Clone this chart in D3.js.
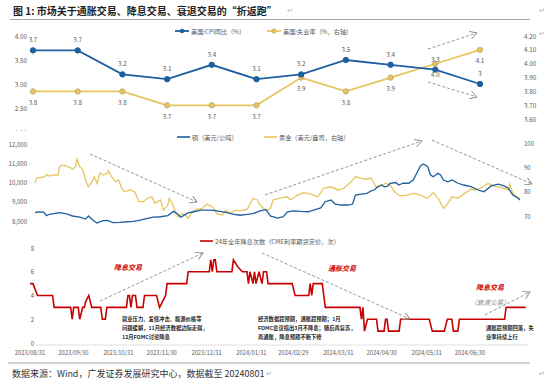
<!DOCTYPE html>
<html><head><meta charset="utf-8">
<script src="https://cdn.jsdelivr.net/npm/d3@7"></script>
<style>body{margin:0;background:#fff}svg{display:block}text{font-family:"Noto Sans CJK SC","Noto Sans",sans-serif}</style>
</head><body><svg id="c" width="550" height="379"></svg>
<script>
// ---------- DATA ----------
const months = ["2023-08","2023-09","2023-10","2023-11","2023-12","2024-01","2024-02","2024-03","2024-04","2024-05","2024-06"];
const cpi = [3.7,3.7,3.2,3.1,3.4,3.1,3.2,3.5,3.4,3.3,3.0];
const cpiLabels = ["3.7","3.7","3.2","3.1","3.4","3.1","3.2","3.5","3.4","3.3","3"];
const unemp = [3.8,3.8,3.8,3.7,3.7,3.7,3.9,3.8,3.9,4.0,4.1];
const unempLabels = ["3.8","3.8","3.8","3.7","3.7","3.7","3.9","3.8","3.9","4.0","4.1"];
const p1LeftTicks = [4.0,3.5,3.0,2.5,2.0];
const p1RightTicks = [4.2,4.1,4.0,3.9,3.8,3.7,3.6,3.5];

const copperDates = ["2023-08-31","2023-09-02","2023-09-06","2023-09-08","2023-09-10","2023-09-14","2023-09-17","2023-09-22","2023-09-26","2023-10-01","2023-10-05","2023-10-07","2023-10-10","2023-10-13","2023-10-17","2023-10-20","2023-10-24","2023-10-29","2023-11-03","2023-11-07","2023-11-12","2023-11-17","2023-11-21","2023-11-26","2023-12-01","2023-12-05","2023-12-08","2023-12-10","2023-12-15","2023-12-19","2023-12-24","2023-12-28","2024-01-02","2024-01-06","2024-01-11","2024-01-15","2024-01-20","2024-01-25","2024-01-29","2024-02-03","2024-02-07","2024-02-10","2024-02-15","2024-02-19","2024-02-22","2024-02-26","2024-03-02","2024-03-07","2024-03-11","2024-03-16","2024-03-19","2024-03-23","2024-03-26","2024-03-30","2024-04-04","2024-04-07","2024-04-09","2024-04-13","2024-04-17","2024-04-20","2024-04-22","2024-04-24","2024-04-27","2024-04-29","2024-05-01","2024-05-03","2024-05-07","2024-05-09","2024-05-12","2024-05-16","2024-05-19","2024-05-22","2024-05-24","2024-05-26","2024-05-29","2024-05-31","2024-06-02","2024-06-05","2024-06-07","2024-06-09","2024-06-12","2024-06-15","2024-06-19","2024-06-23","2024-06-28","2024-07-03","2024-07-07","2024-07-12","2024-07-17","2024-07-21","2024-07-24","2024-07-27","2024-07-30","2024-08-01"];
const copper = [8430,8470,8460,8280,8350,8400,8430,8370,8260,8200,8100,8260,8050,7890,8020,8030,7920,7930,7960,7980,8050,8140,8200,8220,8280,8500,8350,8200,8420,8480,8560,8560,8550,8500,8430,8360,8300,8340,8380,8520,8600,8260,8150,8230,8480,8530,8500,8480,8570,8680,9000,9090,8880,8830,8830,8880,9350,9400,9440,9570,9610,9750,9870,9780,9800,9960,10000,9870,9960,9960,10130,10560,10860,10960,10830,10390,10300,10480,10390,10130,10040,10130,9960,9870,9780,9610,9520,9820,9910,9820,9700,9350,9220,9090];

const goldDates = ["2023-08-31","2023-09-01","2023-09-03","2023-09-07","2023-09-08","2023-09-10","2023-09-12","2023-09-16","2023-09-17","2023-09-19","2023-09-22","2023-09-24","2023-09-26","2023-09-28","2023-09-29","2023-10-01","2023-10-03","2023-10-05","2023-10-07","2023-10-10","2023-10-11","2023-10-13","2023-10-15","2023-10-17","2023-10-20","2023-10-21","2023-10-23","2023-10-26","2023-10-28","2023-10-30","2023-11-01","2023-11-05","2023-11-08","2023-11-11","2023-11-14","2023-11-17","2023-11-20","2023-11-22","2023-11-26","2023-11-28","2023-12-01","2023-12-02","2023-12-04","2023-12-06","2023-12-08","2023-12-11","2023-12-13","2023-12-15","2023-12-18","2023-12-21","2023-12-25","2023-12-28","2024-01-01","2024-01-04","2024-01-08","2024-01-10","2024-01-13","2024-01-17","2024-01-20","2024-01-25","2024-01-29","2024-02-01","2024-02-03","2024-02-07","2024-02-10","2024-02-12","2024-02-17","2024-02-22","2024-02-24","2024-02-29","2024-03-04","2024-03-09","2024-03-14","2024-03-18","2024-03-23","2024-03-28","2024-04-01","2024-04-06","2024-04-09","2024-04-13","2024-04-16","2024-04-20","2024-04-23","2024-04-27","2024-04-30","2024-05-03","2024-05-07","2024-05-10","2024-05-15","2024-05-19","2024-05-24","2024-05-29","2024-06-02","2024-06-06","2024-06-09","2024-06-12","2024-06-15","2024-06-19","2024-06-23","2024-06-28","2024-07-01","2024-07-05","2024-07-10","2024-07-14","2024-07-19","2024-07-24","2024-07-25","2024-07-27","2024-07-30","2024-08-01"];
const gold = [83.4,85.5,85.8,86.2,87.1,86.4,86.8,86.8,90.3,91.0,90.5,90.0,89.2,90.3,93.3,90.3,89.2,84.8,82.0,84.5,86.2,83.4,87.8,86.8,87.5,88.6,86.2,84.1,84.8,81.4,80.0,80.7,80.0,75.9,75.9,77.3,77.9,75.2,76.6,72.4,74.5,77.3,75.2,72.4,69.7,71.0,70.4,69.0,71.7,72.8,73.1,74.9,73.8,71.0,70.4,72.4,71.0,72.4,72.1,72.8,77.2,76.6,74.5,72.1,73.1,76.6,77.3,77.9,76.6,78.6,79.6,79.0,77.9,81.4,82.0,80.7,81.4,84.1,86.2,85.5,85.1,85.5,82.0,82.7,83.4,82.7,79.3,78.3,78.6,79.3,78.6,77.3,79.6,76.6,73.1,75.2,77.9,77.3,79.0,81.0,80.7,81.4,83.4,82.3,81.7,80.7,83.1,79.3,77.9,77.3];
const p2LeftTicks = [8000,9000,10000,11000,12000];
const p2RightTicks = [70,80,90,100];

const cutDates = ["2023-08-31","2023-09-02","2023-09-05","2023-09-15","2023-09-16","2023-09-27","2023-09-28","2023-09-29","2023-10-02","2023-10-03","2023-10-05","2023-10-06","2023-10-07","2023-10-09","2023-10-11","2023-10-17","2023-10-18","2023-10-20","2023-10-21","2023-11-03","2023-11-04","2023-11-05","2023-11-06","2023-11-07","2023-11-09","2023-11-10","2023-11-14","2023-11-15","2023-11-23","2023-11-25","2023-11-29","2023-11-30","2023-12-13","2023-12-14","2023-12-28","2023-12-29","2023-12-30","2023-12-31","2024-01-01","2024-01-02","2024-01-12","2024-01-13","2024-01-16","2024-01-19","2024-01-22","2024-01-23","2024-01-24","2024-01-26","2024-01-27","2024-01-28","2024-01-30","2024-02-01","2024-02-02","2024-02-04","2024-02-05","2024-02-21","2024-02-23","2024-03-03","2024-03-04","2024-03-05","2024-03-06","2024-03-12","2024-03-13","2024-03-14","2024-04-06","2024-04-07","2024-04-08","2024-04-09","2024-04-11","2024-04-17","2024-04-18","2024-04-22","2024-04-23","2024-04-24","2024-04-25","2024-05-02","2024-05-03","2024-05-22","2024-05-24","2024-06-01","2024-06-03","2024-06-06","2024-06-07","2024-06-10","2024-06-11","2024-07-11","2024-07-12","2024-07-25"];
const cuts = [5,5,4,4,3,3,2,3,3,2,3,3,3.5,4,3,3,2,2,3,3,4,4,3,4,4,3,3,4,4,3,4,5,5,6,6,7,6,7,7,6,6,7,6.4,6,6,5,6,5,6,5,6,5,6,6,5,5,4,4,5,4,5,5,4,3,3,2,3,1,2,2,1,1,2,2,1,1,2,2,1,1,2,2,1,1,2,2,3,3];
const p3Ticks = [0,2,4,6,8];
const dateTicks = ["2023-08-31","2023-09-30","2023-10-31","2023-11-30","2023-12-31","2024-01-31","2024-02-29","2024-03-31","2024-04-30","2024-05-31","2024-06-30"];

// ---------- STYLE ----------
const BLUE = "#1F5F9F", YEL = "#E8C45C", RED = "#C80000", GRAY = "#595959", ARROW = "#8a8a8a";
const parse = d3.timeParse("%Y-%m-%d");
const svg = d3.select("#c");

const defs = svg.append("defs");
defs.append("marker").attr("id","arr").attr("markerUnits","userSpaceOnUse")
  .attr("markerWidth",9).attr("markerHeight",9).attr("refX",7).attr("refY",4).attr("orient","auto")
  .append("path").attr("d","M0,0 L7,4 L0,8").attr("fill","none").attr("stroke",ARROW).attr("stroke-width",0.9);

function arrow(x1,y1,x2,y2){
  svg.append("line").attr("x1",x1).attr("y1",y1).attr("x2",x2).attr("y2",y2)
    .attr("stroke",ARROW).attr("stroke-width",0.9).attr("stroke-dasharray","3,2").attr("marker-end","url(#arr)");
}
function txt(x,y,s,o={}){
  return svg.append("text").attr("x",x).attr("y",y).attr("dominant-baseline","central")
    .attr("text-anchor",o.anchor||"start").attr("font-size",o.size||6.3).attr("fill",o.fill||GRAY)
    .attr("font-weight",o.weight||"normal").attr("font-style",o.style||"normal").text(s);
}

// ---------- TITLE ----------
txt(13,10,"图 1: 市场关于通胀交易、降息交易、衰退交易的“折返跑”",{size:10,fill:"#222",weight:"bold"});
txt(287,10,"↵",{size:7,fill:"#aaa"});
txt(539,10,"↵",{size:7,fill:"#aaa"});
svg.append("line").attr("x1",10).attr("x2",530).attr("y1",19.5).attr("y2",19.5).attr("stroke","#a6a6a6").attr("stroke-width",1);
txt(539,33,"↵",{size:7,fill:"#aaa"});

// ---------- PANEL 1 ----------
const x1 = d3.scalePoint().domain(months).range([33,480]);
const y1L = d3.scaleLinear().domain([2,4]).range([132,36]);
const y1R = d3.scaleLinear().domain([3.5,4.2]).range([133,36]);
p1LeftTicks.forEach(t=>txt(27,y1L(t),d3.format(".2f")(t),{anchor:"end"}));
p1RightTicks.forEach(t=>txt(524,y1R(t),d3.format(".2f")(t)));

const unempPts = months.map((m,i)=>({m,v:unemp[i],l:unempLabels[i]}));
const cpiPts = months.map((m,i)=>({m,v:cpi[i],l:cpiLabels[i]}));
svg.append("path").datum(unempPts).attr("fill","none").attr("stroke",YEL).attr("stroke-width",1.7)
  .attr("d",d3.line().x(d=>x1(d.m)).y(d=>y1R(d.v)));
svg.append("path").datum(cpiPts).attr("fill","none").attr("stroke",BLUE).attr("stroke-width",1.8)
  .attr("d",d3.line().x(d=>x1(d.m)).y(d=>y1L(d.v)));
svg.selectAll(".mu").data(unempPts).join("circle").attr("cx",d=>x1(d.m)).attr("cy",d=>y1R(d.v)).attr("r",2.7)
  .attr("fill",YEL).attr("stroke","#b9a978").attr("stroke-width",0.8);
svg.selectAll(".mc").data(cpiPts).join("circle").attr("cx",d=>x1(d.m)).attr("cy",d=>y1L(d.v)).attr("r",2.7)
  .attr("fill",BLUE).attr("stroke",BLUE);
cpiPts.forEach(d=>txt(x1(d.m),y1L(d.v)-10.5,d.l,{anchor:"middle"}));
unempPts.forEach(d=>txt(x1(d.m),y1R(d.v)+10.8,d.l,{anchor:"middle"}));

// legend 1
svg.append("line").attr("x1",175).attr("x2",189).attr("y1",31).attr("y2",31).attr("stroke",BLUE).attr("stroke-width",1.8);
svg.append("circle").attr("cx",182).attr("cy",31).attr("r",2.2).attr("fill",BLUE);
txt(191,31,"美国:CPI同比（%）",{size:6.2});
svg.append("line").attr("x1",267).attr("x2",281).attr("y1",31).attr("y2",31).attr("stroke",YEL).attr("stroke-width",1.7);
svg.append("circle").attr("cx",274).attr("cy",31).attr("r",2.2).attr("fill",YEL).attr("stroke","#b9a978").attr("stroke-width",0.7);
txt(283,31,"美国:失业率（%，右轴）",{size:6.2});

arrow(428,49,477,33);
arrow(428,82,477,97);

// cover the overlapped bottom of panel 1
svg.append("rect").attr("x",0).attr("y",130.5).attr("width",550).attr("height",8).attr("fill","#fff");

// ---------- PANEL 2 ----------
const x2 = d3.scaleTime().domain([parse("2023-08-31"),parse("2024-08-01")]).range([35,520]);
const y2L = d3.scaleLinear().domain([8000,12000]).range([221,144]);
const y2R = d3.scaleLinear().domain([70,100]).range([216,143]);
p2LeftTicks.forEach(t=>txt(27,y2L(t),d3.format(",")(t),{anchor:"end",size:6}));
p2RightTicks.forEach(t=>txt(524,y2R(t),String(t),{size:6}));
const goldPts = goldDates.map((d,i)=>({d:parse(d),v:gold[i]})).filter(p=>p.v!=null);
const copperPts = copperDates.map((d,i)=>({d:parse(d),v:copper[i]})).filter(p=>p.v!=null);
svg.append("path").datum(goldPts).attr("fill","none").attr("stroke",YEL).attr("stroke-width",1.3)
  .attr("d",d3.line().x(p=>x2(p.d)).y(p=>y2R(p.v)));
svg.append("path").datum(copperPts).attr("fill","none").attr("stroke",BLUE).attr("stroke-width",1.3)
  .attr("d",d3.line().x(p=>x2(p.d)).y(p=>y2L(p.v)));
svg.append("line").attr("x1",177).attr("x2",190).attr("y1",137).attr("y2",137).attr("stroke",BLUE).attr("stroke-width",1.6);
txt(192,137,"铜（美元/公吨）",{size:6.2});
svg.append("line").attr("x1",264).attr("x2",277).attr("y1",137).attr("y2",137).attr("stroke",YEL).attr("stroke-width",1.6);
txt(279,137,"黄金（美元/盎司，右轴）",{size:6.2});
arrow(90,154,197,202);
arrow(265,195,422,141);
arrow(432,140,532,184);

// ---------- PANEL 3 ----------
const x3 = d3.scaleTime().domain([parse("2023-08-31"),parse("2024-06-30")]).range([30,488]);
// the bottom date axis of the composite has its own, slightly tighter spacing
const xAxis3 = d3.scaleTime().domain([parse("2023-08-31"),parse("2024-06-30")]).range([30,470]);
const y3 = d3.scaleLinear().domain([0,8]).range([343,248]);
p3Ticks.forEach(t=>txt(34,y3(t),String(t),{anchor:"end",size:6}));
svg.append("line").attr("x1",36).attr("x2",528).attr("y1",345).attr("y2",345).attr("stroke","#d9d9d9").attr("stroke-width",0.8);
const fmt = d3.timeFormat("%Y/%m/%d");
dateTicks.forEach(d=>txt(xAxis3(parse(d)),352.5,fmt(parse(d)),{anchor:"middle",size:5.8}));
const cutPts = cutDates.map((d,i)=>({d:parse(d),v:cuts[i]})).filter(p=>p.v!=null);
svg.append("path").datum(cutPts).attr("fill","none").attr("stroke",RED).attr("stroke-width",1.6)
  .attr("stroke-linejoin","miter").attr("d",d3.line().x(p=>x3(p.d)).y(p=>y3(p.v)));
svg.append("line").attr("x1",200).attr("x2",213).attr("y1",241).attr("y2",241).attr("stroke",RED).attr("stroke-width",1.6);
txt(215,241,"24年全年降息次数（CME利率期货定价，次）",{size:6.2});

txt(128,267,"降息交易",{anchor:"middle",size:7,fill:"#D40000",weight:"bold",style:"italic"});
txt(342,268,"通胀交易",{anchor:"middle",size:7,fill:"#D40000",weight:"bold",style:"italic"});
txt(490,287,"降息交易",{anchor:"middle",size:7,fill:"#D40000",weight:"bold",style:"italic"});
txt(490,302,"（衰退交易）",{anchor:"middle",size:6.6,fill:"#8c8c8c",style:"italic"});

const note = {size:5.3,fill:"#262626",weight:"bold"};
["就业压力、发债冲击、能源价格等","问题缓解，11月经济数据边际走弱，","12月FOMC讨论降息"].forEach((s,i)=>txt(122,319+i*9,s,note));
["经济数据超预期，通胀超预期；1月","FOMC会议指出3月不降息；随后再复苏，","再通胀，降息预期不断下修"].forEach((s,i)=>txt(258,319+i*9,s,note));
["通胀超预期回落，失","业率持续上行"].forEach((s,i)=>txt(486,328+i*8.5,s,note));

arrow(100,301,203,253);
arrow(262,253,410,319);
arrow(485,315,530,292);

// ---------- SOURCE ----------
svg.append("line").attr("x1",8).attr("x2",530).attr("y1",363).attr("y2",363).attr("stroke","#a6a6a6").attr("stroke-width",1);
txt(12,373,"数据来源：Wind，广发证券发展研究中心，数据截至 20240801",{size:9,fill:"#333"});
txt(266,373,"↵",{size:7,fill:"#aaa"});
txt(539,373,"↵",{size:7,fill:"#aaa"});
</script></body></html>
